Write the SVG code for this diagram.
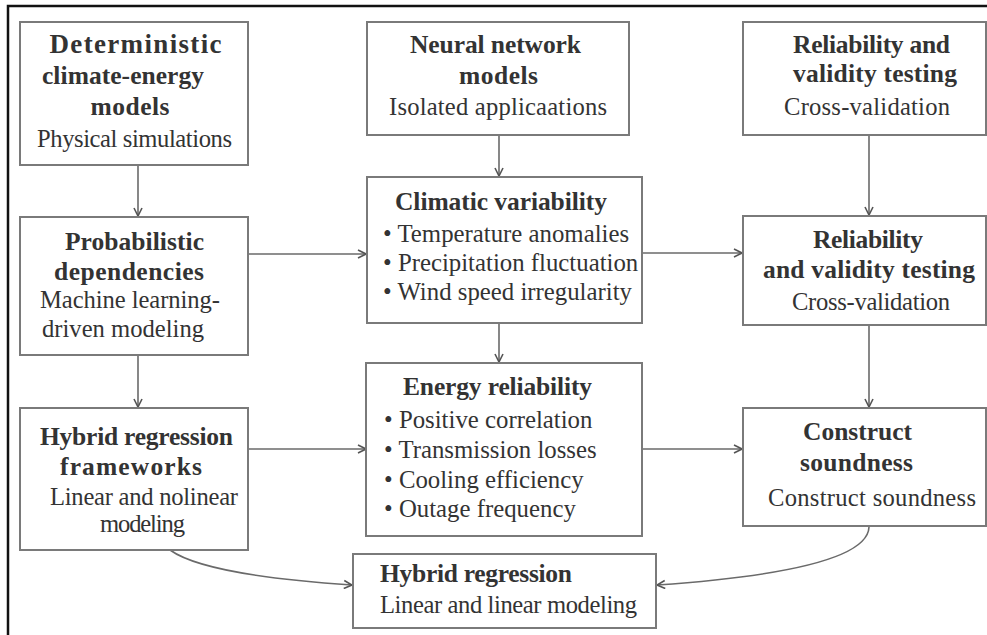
<svg xmlns="http://www.w3.org/2000/svg" width="987" height="635" viewBox="0 0 987 635">
  <style>
    .box { fill: #ffffff; stroke: #7a7a7a; stroke-width: 2; }
    .frame { fill: none; stroke: #111111; stroke-width: 2.5; }
    .link { fill: none; stroke: #6a6a6a; stroke-width: 1.6; marker-end: url(#arrow); }
    text { font-family: "Liberation Serif", "Times New Roman", serif; fill: #333333; }
    .title { font-size: 25.5px; font-weight: bold; text-anchor: middle; }
    .sub { font-size: 24.6px; text-anchor: middle; }
    .item { font-size: 24.8px; }
    .left { text-anchor: start; }
  </style>
  <defs>
    <marker id="arrow" viewBox="0 0 10 10" refX="9" refY="5" markerWidth="10" markerHeight="10" markerUnits="userSpaceOnUse" orient="auto">
      <path d="M1,1 L9,5 L1,9" fill="none" stroke="#555555" stroke-width="1.6"/>
    </marker>
  </defs>
  <rect width="987" height="635" fill="#ffffff"/>
  <!-- outer frame, open on the right and bottom edges -->
  <path class="frame" d="M8,640 L8,6 L992,6"/>

  <g id="connectors">
    <line class="link" x1="138" y1="165" x2="138" y2="216"/>
    <line class="link" x1="138" y1="355" x2="138" y2="407"/>
    <line class="link" x1="499" y1="135" x2="499" y2="176"/>
    <line class="link" x1="499" y1="323" x2="499" y2="362"/>
    <line class="link" x1="869" y1="135" x2="869" y2="215"/>
    <line class="link" x1="869" y1="325" x2="869" y2="407"/>
    <line class="link" x1="248" y1="254" x2="366" y2="254"/>
    <line class="link" x1="642" y1="253" x2="742" y2="253"/>
    <line class="link" x1="248" y1="449" x2="366" y2="449"/>
    <line class="link" x1="642" y1="449" x2="742" y2="449"/>
    <path class="link" d="M170,550 C195,568 262,579 352,585"/>
    <path class="link" d="M869,527 C868,555 800,575 657,585"/>
  </g>

  <g id="deterministic">
    <rect class="box" x="20" y="22" width="228" height="143"/>
    <text class="title" x="135.5" y="53" font-size="27" style="font-size:27px" textLength="172">Deterministic</text>
    <text class="title" x="123" y="84" textLength="162">climate-energy</text>
    <text class="title" x="130" y="115" textLength="79">models</text>
    <text class="sub" x="134.5" y="147" textLength="195">Physical simulations</text>
  </g>

  <g id="neural-network">
    <rect class="box" x="367" y="22" width="262" height="113"/>
    <text class="title" x="495.5" y="53" textLength="171">Neural network</text>
    <text class="title" x="498.5" y="84" textLength="79">models</text>
    <text class="sub" x="498" y="115" textLength="218">Isolated applicaations</text>
  </g>

  <g id="reliability-top">
    <rect class="box" x="743" y="22" width="243" height="113"/>
    <text class="title" x="871.5" y="53" textLength="157">Reliability and</text>
    <text class="title" x="875" y="82" textLength="164">validity testing</text>
    <text class="sub" x="867" y="115" textLength="166">Cross-validation</text>
  </g>

  <g id="probabilistic">
    <rect class="box" x="20" y="217" width="228" height="138"/>
    <text class="title" x="134.5" y="250" textLength="139">Probabilistic</text>
    <text class="title" x="129" y="280" textLength="150">dependencies</text>
    <text class="sub" x="130" y="308" textLength="180">Machine learning-</text>
    <text class="sub" x="123" y="337" textLength="162">driven modeling</text>
  </g>

  <g id="climatic-variability">
    <rect class="box" x="367" y="177" width="275" height="146"/>
    <text class="title" x="501" y="210" textLength="212">Climatic variability</text>
    <text class="item" x="383" y="242">• Temperature anomalies</text>
    <text class="item" x="383" y="271">• Precipitation fluctuation</text>
    <text class="item" x="383" y="300">• Wind speed irregularity</text>
  </g>

  <g id="reliability-mid">
    <rect class="box" x="743" y="216" width="243" height="109"/>
    <text class="title" x="868" y="248" textLength="110">Reliability</text>
    <text class="title" x="869" y="278" textLength="212">and validity testing</text>
    <text class="sub" x="871" y="310" textLength="158">Cross-validation</text>
  </g>

  <g id="hybrid-frameworks">
    <rect class="box" x="20" y="408" width="228" height="142"/>
    <text class="title" x="136.5" y="445" textLength="193">Hybrid regression</text>
    <text class="title" x="131" y="475" textLength="142">frameworks</text>
    <text class="sub" x="144" y="505" textLength="188">Linear and nolinear</text>
    <text class="sub" x="142.5" y="532" textLength="85">modeling</text>
  </g>

  <g id="energy-reliability">
    <rect class="box" x="366" y="363" width="276" height="173"/>
    <text class="title" x="497.5" y="395" textLength="189">Energy reliability</text>
    <text class="item" x="384" y="428">• Positive correlation</text>
    <text class="item" x="384" y="458">• Transmission losses</text>
    <text class="item" x="384" y="488">• Cooling efficiency</text>
    <text class="item" x="384" y="517">• Outage frequency</text>
  </g>

  <g id="construct-soundness">
    <rect class="box" x="743" y="408" width="243" height="118"/>
    <text class="title" x="857.5" y="440" textLength="109">Construct</text>
    <text class="title" x="856.5" y="471" textLength="113">soundness</text>
    <text class="sub" x="872" y="506" textLength="208">Construct soundness</text>
  </g>

  <g id="hybrid-regression">
    <rect class="box" x="353" y="554" width="303" height="74"/>
    <text class="title left" x="380" y="582" textLength="192">Hybrid regression</text>
    <text class="sub left" x="380" y="613" textLength="257">Linear and linear modeling</text>
  </g>
</svg>
